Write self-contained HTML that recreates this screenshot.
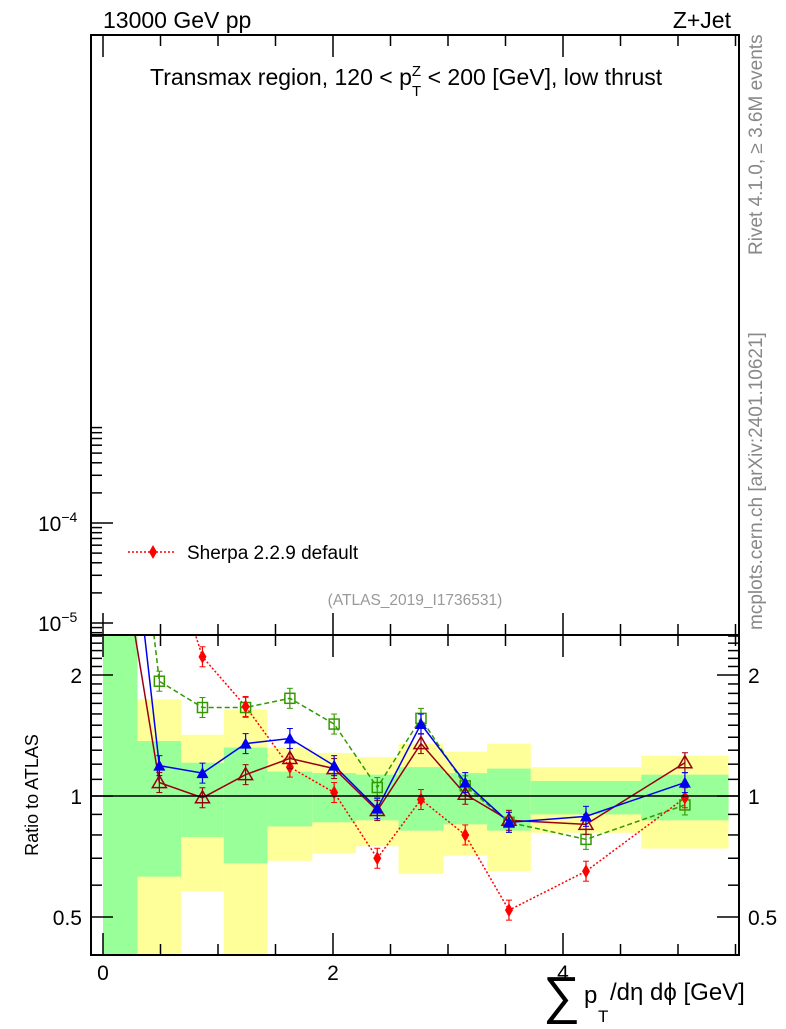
<!DOCTYPE html>
<html><head><meta charset="utf-8"><style>
body{margin:0;background:#fff;width:786px;height:1024px;overflow:hidden}
svg{font-family:"Liberation Sans",sans-serif}
</style></head><body>
<svg id="chart" width="786" height="1024" xmlns="http://www.w3.org/2000/svg">
<g id="bands"></g>
<g id="series"></g>
<g id="axes"></g>
<text x="103" y="28" font-size="23">13000 GeV pp</text>
<text x="731" y="28" font-size="23" text-anchor="end">Z+Jet</text>
<text x="150" y="85" font-size="23">Transmax region, 120 &lt; p<tspan font-size="15" dy="-9">Z</tspan><tspan font-size="15" dx="-9" dy="20">T</tspan><tspan dy="-11"> &lt; 200 [GeV], low thrust</tspan></text>
<g>
<line x1="128" y1="552" x2="176" y2="552" stroke="#f00" stroke-width="1.5" stroke-dasharray="2,2"/>
<path d="M153,545 L157,552 L153,559 L149,552Z" fill="#f00"/>
<text x="187" y="559" font-size="19">Sherpa 2.2.9 default</text>
</g>
<text x="415" y="605" font-size="15.5" fill="#999" text-anchor="middle">(ATLAS_2019_I1736531)</text>
<text transform="translate(762,255) rotate(-90)" font-size="19" fill="#888">Rivet 4.1.0, ≥ 3.6M events</text>
<text transform="translate(762,630) rotate(-90)" font-size="19" fill="#888">mcplots.cern.ch [arXiv:2401.10621]</text>
<text transform="translate(38,795) rotate(-90)" font-size="18" text-anchor="middle">Ratio to ATLAS</text>
<g>
<text x="543" y="1013" font-size="52">∑</text>
<text x="584" y="1003" font-size="24">p</text>
<text x="598" y="1022" font-size="17">T</text>
<text x="610" y="1000" font-size="24">/dη dϕ [GeV]</text>
</g>
</svg>
<script>
const binEdges=[0,0.3,0.68,1.05,1.43,1.82,2.2,2.57,2.96,3.34,3.72,4.68,5.44];
const yellowHi=[3,1.74,1.42,1.64,1.32,1.28,1.25,1.35,1.29,1.35,1.18,1.26];
const greenHi=[3,1.37,1.21,1.32,1.15,1.14,1.13,1.18,1.14,1.17,1.09,1.13];
const greenLo=[0.3,0.63,0.79,0.68,0.84,0.86,0.87,0.82,0.85,0.82,0.90,0.87];
const yellowLo=[0.3,0.3,0.58,0.3,0.69,0.72,0.75,0.64,0.71,0.65,0.81,0.74];
const blueVals=[8.6,1.19,1.14,1.35,1.39,1.19,0.93,1.51,1.08,0.86,0.89,1.08];
const darkRedVals=[4.2,1.08,0.99,1.13,1.24,1.17,0.92,1.35,1.01,0.87,0.85,1.21];
const greenVals=[13,1.93,1.66,1.66,1.75,1.51,1.05,1.56,1.06,0.86,0.78,0.95];
const sherpaVals=[null,4.8,2.22,1.67,1.18,1.02,0.70,0.98,0.80,0.52,0.65,0.99];
const xTicks=[0,2,4];
const rTicks=[0.5,1,2];
const NS="http://www.w3.org/2000/svg";
const L=91,R=739,T=35,M=635,B=955;
const X=v=>103+v*115;
const Y=r=>796-121*Math.log2(r);
function mk(p,tag,at){const e=document.createElementNS(NS,tag);for(const k in at)e.setAttribute(k,at[k]);p.appendChild(e);return e;}
const bands=document.getElementById('bands');
const clip=mk(document.getElementById('chart'),'clipPath',{id:'rc'});
mk(clip,'rect',{x:L,y:M,width:R-L,height:B-M});
bands.setAttribute('clip-path','url(#rc)');
for(let i=0;i<yellowHi.length;i++){
 const x0=X(binEdges[i]),x1=X(binEdges[i+1]);
 let r=mk(bands,'rect',{x:x0,y:Y(yellowHi[i]),width:x1-x0,height:Y(yellowLo[i])-Y(yellowHi[i]),fill:'#ffff99'});
 
 
 r=mk(bands,'rect',{x:x0,y:Y(greenHi[i]),width:x1-x0,height:Y(greenLo[i])-Y(greenHi[i]),fill:'#99ff99'});
 
 
}
const ser=document.getElementById('series');
ser.setAttribute('clip-path','url(#rc)');
const cx=i=>X((binEdges[i]+binEdges[i+1])/2);
function line(vals,col,dash,w){
 const pts=[];vals.forEach((v,i)=>{if(v!=null)pts.push(cx(i)+','+Y(v));});
 const p=mk(ser,'polyline',{points:pts.join(' '),fill:'none',stroke:col,'stroke-width':w,'stroke-dasharray':dash});
 
 
}
line(greenVals,'#339900','5,3',1.5);
line(sherpaVals,'#ff0000','2,2',1.5);
line(darkRedVals,'#990011','',1.5);
line(blueVals,'#0000ee','',1.5);
function err(x,y,c){mk(ser,'line',{x1:x,y1:y-10,x2:x,y2:y+10,stroke:c,'stroke-width':1.2});mk(ser,'line',{x1:x-3,y1:y-10,x2:x+3,y2:y-10,stroke:c});mk(ser,'line',{x1:x-3,y1:y+10,x2:x+3,y2:y+10,stroke:c});}
greenVals.forEach((v,i)=>{if(i==0)return;const x=cx(i),y=Y(v);err(x,y,'#339900');
 const m=mk(ser,'rect',{x:x-5,y:y-5,width:10,height:10,fill:'none',stroke:'#339900','stroke-width':1.5});
 
 });
sherpaVals.forEach((v,i)=>{if(v==null||i<2)return;const x=cx(i),y=Y(v);err(x,y,'#ff0000');
 const m=mk(ser,'path',{d:`M${x},${y-7}L${x+4},${y}L${x},${y+7}L${x-4},${y}Z`,fill:'#ff0000'});
 
 });
darkRedVals.forEach((v,i)=>{if(i==0)return;const x=cx(i),y=Y(v);err(x,y,'#990011');
 const m=mk(ser,'path',{d:`M${x},${y-7}L${x+7},${y+5}L${x-7},${y+5}Z`,fill:'none',stroke:'#990011','stroke-width':1.5});
 
 });
blueVals.forEach((v,i)=>{if(i==0)return;const x=cx(i),y=Y(v);err(x,y,'#0000ee');
 const m=mk(ser,'path',{d:`M${x},${y-6}L${x+6},${y+5}L${x-6},${y+5}Z`,fill:'#0000ee'});
 
 });
const ax=document.getElementById('axes');
mk(ax,'line',{x1:L,y1:796,x2:R,y2:796,stroke:'#000','stroke-width':1.5});
mk(ax,'rect',{x:L,y:T,width:R-L,height:M-T,fill:'none',stroke:'#000','stroke-width':2});
mk(ax,'rect',{x:L,y:M,width:R-L,height:B-M,fill:'none',stroke:'#000','stroke-width':2});
const TY=e=>523-100*(e+4);
for(let d=-6;d<=-4;d++)for(let k=1;k<10;k++){const y=TY(d+Math.log10(k));if(y<T||y>M)continue;const len=k==1?22:11;
 mk(ax,'line',{x1:L,y1:y,x2:L+len,y2:y,stroke:'#000','stroke-width':1.5});}
[[-4,523],[-5,623]].forEach(([e,y])=>{const t=mk(ax,'text',{x:38,y:y+8,'font-size':21});t.innerHTML=`10<tspan font-size="14" dy="-9">−${-e}</tspan>`;});
for(let j=0;j<=11;j++){const v=j*0.5;const x=X(v);if(x>R)break;const maj=(j%4==0);const len=maj?22:11;
 mk(ax,'line',{x1:x,y1:M,x2:x,y2:M-len,stroke:'#000','stroke-width':1.5});
 mk(ax,'line',{x1:x,y1:B,x2:x,y2:B-len,stroke:'#000','stroke-width':1.5});
 mk(ax,'line',{x1:x,y1:T,x2:x,y2:T+len,stroke:'#000','stroke-width':1.5});
 mk(ax,'line',{x1:x,y1:M,x2:x,y2:M+len,stroke:'#000','stroke-width':1.5});}
xTicks.forEach(v=>{const t=mk(ax,'text',{x:X(v),y:980,'font-size':21,'text-anchor':'middle'});t.textContent=v;});
for(let r=0.4;r<=2.5;r=Math.round((r+0.1)*10)/10){const y=Y(r);if(y<M||y>B)continue;const maj=rTicks.includes(r);const len=maj?22:11;
 mk(ax,'line',{x1:L,y1:y,x2:L+len,y2:y,stroke:'#000','stroke-width':1.5});mk(ax,'line',{x1:R,y1:y,x2:R-len,y2:y,stroke:'#000','stroke-width':1.5});}
rTicks.forEach(r=>{[[82,'end'],[748,'start']].forEach(([x,a])=>{const t=mk(ax,'text',{x:x,y:Y(r)+8,'font-size':21,'text-anchor':a});t.textContent=r;});});
</script>
</body></html>
